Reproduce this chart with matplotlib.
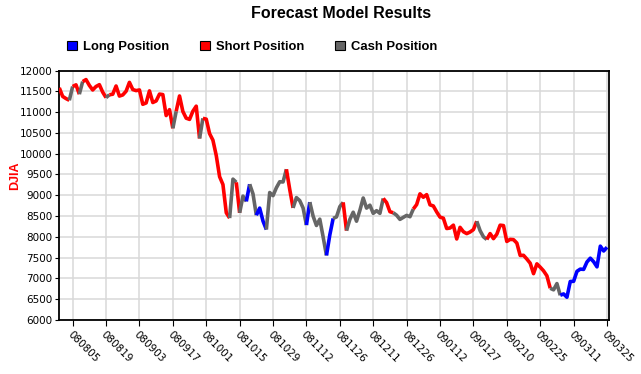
import numpy as np
import pandas as pd
import matplotlib
matplotlib.use('Agg')
import matplotlib.pyplot as plt
from matplotlib.patches import Patch

# DJIA daily closes, 2008-07-30 .. 2009-03-25
closes = [
    11583.69, 11378.02,
    11326.32, 11284.15, 11615.77, 11656.07, 11431.43, 11734.32, 11782.35, 11642.47,
    11532.96, 11615.93, 11659.90, 11479.39, 11348.55, 11417.43, 11430.21, 11628.06,
    11386.25, 11412.87, 11502.51, 11715.18, 11543.55,
    11516.92, 11532.88, 11188.23, 11220.96, 11510.74, 11230.73, 11268.92, 11433.71,
    11421.99, 10917.51, 11059.02, 10609.66, 11019.69, 11388.44, 11015.69, 10854.17,
    10825.17, 11022.06, 11143.13, 10365.45, 10850.66,
    10831.07, 10482.85, 10325.38, 9955.50, 9447.11, 9258.10, 8579.19, 8451.19,
    9387.61, 9310.99, 8577.91, 8979.26, 8852.22, 9265.43, 9033.66, 8519.21,
    8691.25, 8378.95, 8175.77, 9065.12, 8990.96, 9180.69, 9325.01,
    9319.83, 9625.28, 9139.27, 8695.79, 8943.81, 8870.54, 8693.96, 8282.66,
    8835.25, 8497.31, 8273.58, 8424.75, 7997.28, 7552.29, 8046.42, 8443.39,
    8479.47, 8726.61, 8829.04,
    8149.09, 8419.09, 8591.69, 8376.24, 8635.42, 8934.18, 8691.33, 8761.42,
    8565.09, 8629.68, 8564.53, 8924.14, 8824.34, 8604.99, 8579.11, 8519.69,
    8419.49, 8468.48, 8515.55, 8483.93, 8668.39, 8776.39,
    9034.69, 8952.89, 9015.10, 8769.70, 8742.46, 8599.18, 8473.97, 8448.56,
    8200.14, 8212.49, 8281.22, 7949.09, 8228.10, 8122.80, 8077.56, 8116.03,
    8174.73, 8375.45, 8149.01, 8000.86,
    7936.75, 8078.36, 7956.66, 8063.07, 8280.59, 8270.87, 7888.88, 7939.53,
    7932.76, 7850.41, 7552.60, 7555.63, 7465.95, 7365.67, 7114.78, 7350.94,
    7270.89, 7182.08, 7062.93,
    6763.29, 6726.02, 6875.84, 6594.44, 6626.94, 6547.05, 6926.49, 6930.40,
    7170.06, 7223.98, 7216.97, 7395.70, 7486.58, 7400.80, 7278.38, 7775.86,
    7659.97, 7749.81,
]

holidays = ['2008-09-01', '2008-11-27', '2008-12-25', '2009-01-01', '2009-01-19', '2009-02-16']

# position held from one day to the next: S=short, C=cash, L=long (run lengths)
position_runs = [
    ('S', 3), ('C', 1), ('S', 2), ('C', 1), ('S', 7), ('C', 1), ('S', 19), ('C', 1),
    ('S', 7), ('C', 1), ('S', 8), ('C', 2), ('S', 1), ('C', 2), ('L', 1), ('C', 2),
    ('L', 3), ('C', 6), ('S', 2), ('C', 4), ('L', 1), ('C', 5), ('L', 2), ('C', 3),
    ('S', 1), ('C', 11), ('S', 3), ('C', 6), ('S', 19), ('C', 3), ('S', 19), ('C', 3),
    ('L', 14),
]

pos_colors = {'L': '#0000ff', 'S': '#ff0000', 'C': '#666666'}
pos_labels = {'L': 'Long Position', 'S': 'Short Position', 'C': 'Cash Position'}

dates = pd.bdate_range('2008-07-30', '2009-03-25')
dates = dates[~dates.isin(pd.to_datetime(holidays))]
x = np.arange(len(closes))

fig = plt.figure(figsize=(6.41, 3.74), dpi=100)
ax = fig.add_axes([0.0925, 0.1444, 0.8576, 0.667])

# draw each run of equal position as one polyline
start = 0
for code, n in position_runs:
    end = start + n
    ax.plot(x[start:end + 1], closes[start:end + 1], color=pos_colors[code],
            lw=2.6, solid_joinstyle='round', solid_capstyle='butt', zorder=3)
    start = end

tick_idx = np.arange(4, len(closes), 10)
ax.set_xticks(tick_idx)
ax.set_xticklabels(dates[tick_idx].strftime('%y%m%d'), rotation=-45, ha='left',
                   va='top', rotation_mode='anchor', fontsize=7.5,
                   family='DejaVu Sans')
ax.set_xlim(0, len(closes) - 0.4)
ax.set_ylim(6000, 12000)
ax.set_yticks(np.arange(6000, 12001, 500))
ax.tick_params(axis='y', labelsize=7.5, length=3, pad=2)
ax.tick_params(axis='x', length=4, pad=3)
ax.grid(True, color='#d8d8d8', lw=1.1)
ax.set_axisbelow(True)
for s in ax.spines.values():
    s.set_linewidth(1.3)

fig.text(341 / 641, 1 - 13 / 374, 'Forecast Model Results', ha='center', va='center',
         fontsize=11.5, weight='bold', family='Liberation Sans')
fig.text(15 / 641, 1 - 176 / 374, 'DJIA', rotation=90, ha='center', va='center',
         color='red', fontsize=9, weight='bold', family='Liberation Sans')

handles = [Patch(facecolor=pos_colors[c], edgecolor='black', lw=0.8) for c in 'LSC']
fig.legend(handles, [pos_labels[c] for c in 'LSC'], loc='center left',
           bbox_to_anchor=(67 / 641, 1 - 47 / 374), ncol=3, frameon=False,
           handlelength=0.75, handleheight=0.75, handletextpad=0.45,
           columnspacing=2.4, borderpad=0, borderaxespad=0,
           prop={'weight': 'bold', 'size': 9.4, 'family': 'Liberation Sans'})

fig.savefig('out.png', dpi=100)
